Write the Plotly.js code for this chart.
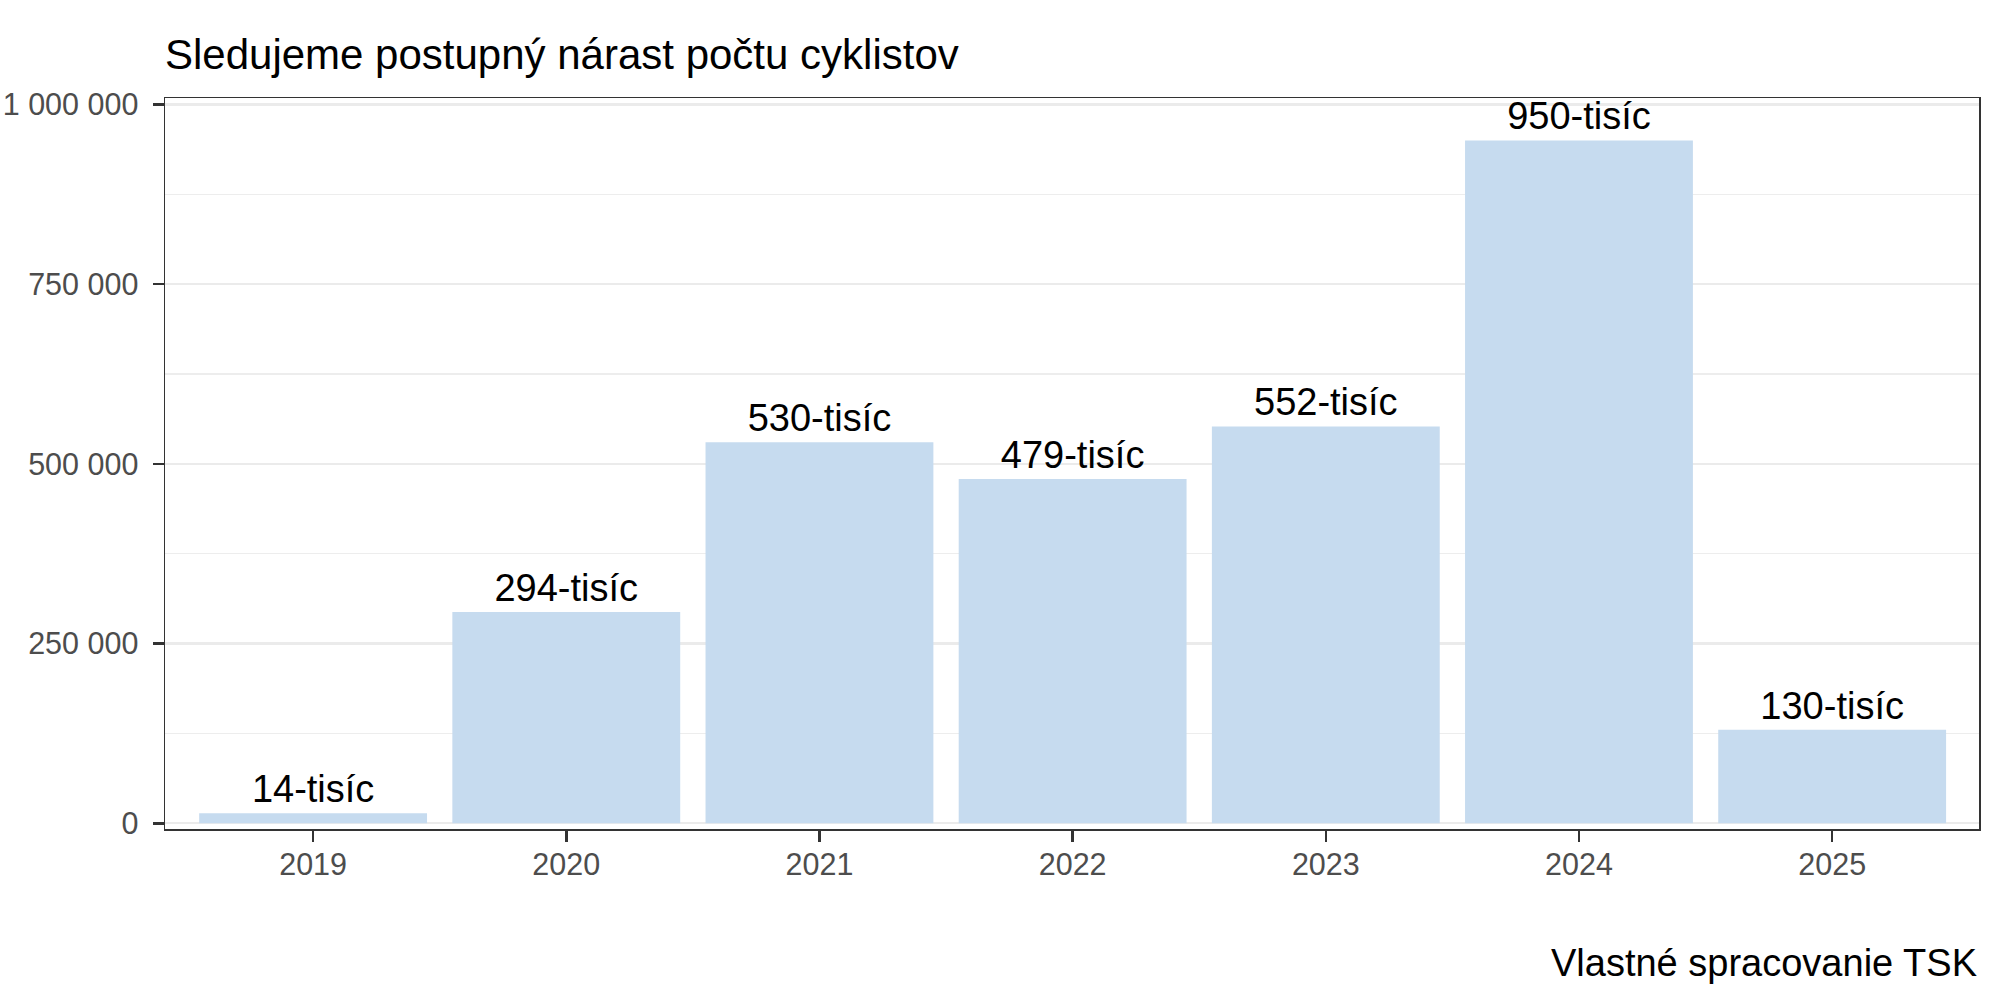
<!DOCTYPE html>
<html>
<head>
<meta charset="utf-8">
<script src="https://cdn.plot.ly/plotly-3.0.1.min.js"></script>
<style>html,body{margin:0;padding:0;background:#fff;}#chart{width:2000px;height:1000px;}</style>
</head>
<body>
<div id="chart"></div>
<script>
const years = ["2019", "2020", "2021", "2022", "2023", "2024", "2025"];
const cyclists = [14000, 294000, 530000, 479000, 552000, 950000, 130000];
const barLabels = ["14-tisíc", "294-tisíc", "530-tisíc", "479-tisíc", "552-tisíc", "950-tisíc", "130-tisíc"];
const titleText = "Sledujeme postupný nárast počtu cyklistov";
const captionText = "Vlastné spracovanie TSK";

const FONT = "Liberation Sans, Arial, sans-serif";

const trace = {
  type: "bar",
  x: years,
  y: cyclists,
  width: 0.9,
  marker: {color: "#C6DBEF", line: {width: 0}},
  text: barLabels,
  textposition: "outside",
  textfont: {family: FONT, size: 38, color: "#000000"},
  cliponaxis: false,
  constraintext: "none",
  hoverinfo: "x+y"
};

const layout = {
  width: 2000,
  height: 1000,
  margin: {l: 165, r: 21, t: 98, b: 171},
  paper_bgcolor: "#FFFFFF",
  plot_bgcolor: "#FFFFFF",
  separators: ", ",
  showlegend: false,
  font: {family: FONT},
  title: {
    text: titleText,
    font: {family: FONT, size: 42, color: "#000000"},
    xref: "paper", x: 0, xanchor: "left",
    yref: "container", y: 0.946, yanchor: "middle"
  },
  xaxis: {
    type: "category",
    range: [-0.585, 6.58],
    showgrid: false,
    zeroline: false,
    showline: true, linecolor: "#333333", linewidth: 1.5, mirror: true,
    ticks: "outside", ticklen: 11, tickwidth: 2.5, tickcolor: "#333333",
    tickfont: {family: FONT, size: 30.5, color: "#4D4D4D"},
    ticklabelstandoff: -3
  },
  yaxis: {
    range: [-8000, 1009000],
    tickvals: [0, 250000, 500000, 750000, 1000000],
    tickformat: ",d",
    showgrid: true, gridcolor: "#EBEBEB", gridwidth: 2.4,
    minor: {tickvals: [125000, 375000, 625000, 875000], showgrid: true, gridcolor: "#EDEDED", gridwidth: 1.3, ticks: ""},
    zeroline: false,
    showline: true, linecolor: "#333333", linewidth: 1.5, mirror: true,
    ticks: "outside", ticklen: 11, tickwidth: 2.5, tickcolor: "#333333",
    tickfont: {family: FONT, size: 30.5, color: "#4D4D4D"},
    ticklabelstandoff: 8
  },
  annotations: [{
    text: captionText,
    xref: "paper", x: 1, xanchor: "right",
    yref: "paper", y: -0.197, yanchor: "middle", yshift: 10,
    showarrow: false,
    font: {family: FONT, size: 38, color: "#000000"}
  }]
};

Plotly.newPlot("chart", [trace], layout, {displayModeBar: false, staticPlot: true});
</script>
</body>
</html>
